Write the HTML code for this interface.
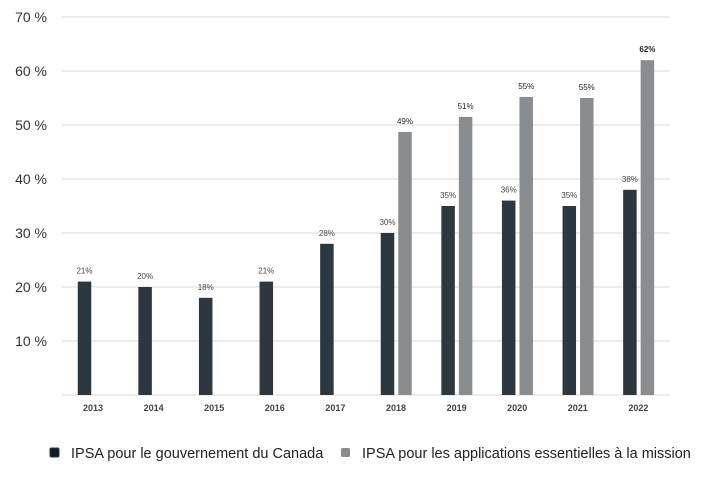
<!DOCTYPE html>
<html><head><meta charset="utf-8"><style>
body{margin:0;background:#fff;font-family:"Liberation Sans",sans-serif;}
svg text{font-family:"Liberation Sans",sans-serif;}
</style></head><body>
<svg width="718" height="479">
<g id="grid"></g><g id="bars"></g><g id="labels"></g>
<g>
<rect x="50" y="448" width="9" height="9" rx="1.5" fill="#0f1e2b" stroke="#2b3540"/>
<text x="71" y="458" font-size="14.5" fill="#222">IPSA pour le gouvernement du Canada</text>
<rect x="341" y="448" width="9" height="9" rx="1.5" fill="#8a8d90"/>
<text x="362" y="458" font-size="14.5" fill="#222">IPSA pour les applications essentielles à la mission</text>
</g>
</svg>
<script>
const categories=["2013","2014","2015","2016","2017","2018","2019","2020","2021","2022"];
const canadaValues=[21,20,18,21,28,30,35,36,35,38];
const missionValues=[null,null,null,null,null,48.7,51.5,55.2,55,62];
const missionLabels=[null,null,null,null,null,"49%","51%","55%","55%","62%"];
const yTicks=[10,20,30,40,50,60,70];
const ns="http://www.w3.org/2000/svg";
const y0=395,pxPer=5.4,xFirst=93,step=60.6,bw=13.5;
const y=v=>y0-v*pxPer, xc=i=>xFirst+i*step;
function mk(t,a,p){const e=document.createElementNS(ns,t);for(const k in a)e.setAttribute(k,a[k]);document.getElementById(p).appendChild(e);return e;}
yTicks.forEach(t=>{
 const l=mk("line",{x1:62,x2:670,y1:y(t),y2:y(t),stroke:"#d9d9d9","stroke-width":1},"grid");
 
 
 const tx=mk("text",{x:47,y:y(t)+5,"text-anchor":"end","font-size":14,fill:"#333"},"grid");
 tx.textContent=t+" %";
 
 
});
const base=mk("line",{x1:62,x2:670,y1:y0,y2:y0,stroke:"#d9d9d9","stroke-width":1},"grid");


categories.forEach((c,i)=>{
 const t=mk("text",{x:xc(i),y:411,"text-anchor":"middle","font-size":9,"font-weight":"bold",fill:"#444"},"labels");
 t.textContent=c;
 
 
 const v=canadaValues[i],cx=xc(i)-8.5;
 const b=mk("rect",{x:cx-bw/2,y:y(v),width:bw,height:v*pxPer,fill:"#2d3740"},"bars");
 
 
 const lt=mk("text",{x:cx,y:y(v)-8,"text-anchor":"middle","font-size":8,fill:"#444"},"labels");
 lt.textContent=Math.round(v)+"%";
 
 
 const m=missionValues[i];
 if(m!=null){
  const gx=xc(i)+9;
  const g=mk("rect",{x:gx-bw/2,y:y(m),width:bw,height:m*pxPer,fill:"#8a8d90"},"bars");
  
  
  const gt=mk("text",{x:gx,y:y(m)-8,"text-anchor":"middle","font-size":8,fill:"#222","font-weight":i==9?"bold":"normal"},"labels");
  gt.textContent=missionLabels[i];
  
  
 }
});
</script>
</body></html>
